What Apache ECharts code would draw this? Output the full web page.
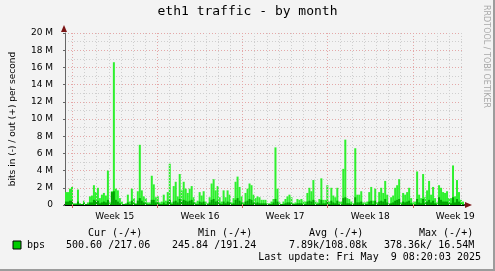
<!DOCTYPE html>
<html>
<head>
<meta charset="utf-8">
<script src="https://cdn.jsdelivr.net/npm/echarts@6.0.0/dist/echarts.min.js"></script>
<style>
  html, body { margin: 0; padding: 0; background: #f3f3f3; }
  #box { width: 495px; height: 271px; }
</style>
</head>
<body>
<div id="box"></div>
<script>
// out (+) max per 2px bin, in Mbit/s
var maxVals = [
  1.5,1.5,1.9,2.1,0.2,0.2,1.8,0.2,0.1,0.5,
  0.1,0.3,1.0,1.1,2.3,1.5,2.0,0.8,1.2,1.4,
  1.1,4.0,0.3,1.6,16.6,1.9,1.7,0.8,0.4,0.1,
  0.2,1.2,0.4,1.9,0.8,0.2,1.6,7.0,1.7,1.0,
  0.8,0.3,0.3,3.4,2.4,0.9,1.0,0.3,0.4,1.2,
  0.5,1.5,4.8,0.3,2.2,2.7,1.0,3.6,1.7,2.7,
  1.9,1.4,1.9,2.2,0.9,0.3,0.5,1.5,1.1,1.6,
  0.4,0.2,0.9,2.5,3.0,1.7,2.2,0.9,0.4,1.7,
  0.9,1.7,1.2,0.3,0.8,2.7,3.3,2.1,1.0,0.3,
  1.4,1.9,2.5,2.3,1.2,0.8,1.0,0.9,0.6,0.6,
  0.6,0.2,0.2,0.4,0.7,6.7,1.9,0.3,0.1,0.4,
  0.7,1.0,1.2,0.9,0.2,0.3,0.7,0.6,0.7,0.5,
  0.4,1.4,2.0,1.6,2.9,0.5,0.3,0.7,3.1,0.6,
  0.6,2.3,0.4,2.0,1.1,0.9,2.0,0.4,0.4,4.2,
  7.6,0.8,0.7,0.4,0.2,6.6,1.2,1.2,1.6,0.3,
  0.3,0.4,1.5,2.1,0.5,1.9,0.3,1.5,2.0,1.4,
  2.8,1.2,0.2,0.9,1.1,2.0,2.3,3.0,0.3,1.4,
  1.2,1.5,2.0,0.8,0.3,0.4,3.9,1.2,0.8,3.6,
  0.9,1.7,2.8,1.2,2.1,0.8,0.3,2.3,2.0,1.5,
  1.4,1.6,0.8,0.8,4.6,1.0,2.9,1.5,0.6,0.4
];
// out (+) average per bin
var avgVals = [
  0.4,0.4,0.5,0.5,0.1,0.1,0.4,0.1,0.1,0.2,
  0.1,0.1,0.3,0.3,0.6,0.5,0.5,0.2,0.3,0.4,
  0.3,0.6,0.1,1.5,1.6,0.6,0.4,0.2,0.1,0.1,
  0.1,0.3,0.1,0.5,0.2,0.1,0.5,0.8,0.5,0.3,
  0.2,0.1,0.1,0.6,0.6,0.3,0.3,0.1,0.1,0.3,
  0.1,0.4,0.6,0.1,0.4,0.5,0.3,0.7,0.4,0.6,
  0.5,0.4,0.5,0.6,0.3,0.1,0.1,0.4,0.3,0.4,
  0.1,0.1,0.3,0.6,0.7,0.4,0.5,0.2,0.1,0.4,
  0.2,0.4,0.3,0.1,0.2,0.6,0.8,0.5,0.3,0.1,
  0.4,0.5,0.7,0.6,0.3,0.2,0.3,0.2,0.2,0.2,
  0.2,0.1,0.1,0.1,0.3,0.7,0.4,0.1,0.1,0.1,
  0.2,0.3,0.3,0.2,0.1,0.1,0.2,0.2,0.2,0.1,
  0.1,0.4,0.5,0.4,0.6,0.1,0.1,0.2,0.6,0.2,
  0.2,0.5,0.1,0.5,0.3,0.2,0.5,0.1,0.1,0.8,
  0.9,0.2,0.2,0.1,0.1,0.9,0.3,0.3,0.4,0.1,
  0.1,0.1,0.4,0.5,0.1,0.5,0.1,0.4,0.5,0.4,
  0.7,0.3,0.1,0.2,0.3,0.5,0.6,0.7,0.1,0.4,
  0.3,0.4,0.5,0.2,0.1,0.1,0.7,0.3,0.2,0.7,
  0.2,0.4,0.6,0.3,0.5,0.2,0.1,0.9,0.6,0.4,
  0.4,0.4,0.2,0.2,0.9,0.3,0.7,0.4,0.2,0.1
];
var binHours = 3.9375;          // one bin = 2px of the graph
var spanHours = 787.5;          // whole x range
var weekStarts = [14.4, 182.4, 350.4, 518.4, 686.4];
var weekLabels = ['Week 15', 'Week 16', 'Week 17', 'Week 18', 'Week 19'];

var legendHead = ['Cur (-/+)', 'Min (-/+)', 'Avg (-/+)', 'Max (-/+)'];
var legendVals = ['500.60 /217.06', '245.84 /191.24', '7.89k/108.08k', '378.36k/ 16.54M'];
var lastUpdate = 'Last update: Fri May  9 08:20:03 2025';

function toPts(arr) {
  return arr.map(function (v, i) { return [(i + 0.5) * binHours, v]; });
}

var weekCenters = weekStarts.map(function (w) { return w + 84; });
var dayLines = [];
for (var t = weekStarts[0]; t < spanHours; t += 24) {
  var isWeek = weekStarts.some(function (w) { return Math.abs(w - t) < 0.01; });
  if (!isWeek) dayLines.push(t);
}

var mono = 'DejaVu Sans Mono';
var sans = 'DejaVu Sans';
function txt(x, y, s, extra) {
  var st = { text: s, font: '10px "' + mono + '"', fill: '#000', verticalAlign: 'middle' };
  for (var k in extra) st[k] = extra[k];
  return { type: 'text', x: x, y: y, style: st };
}

var myChart = echarts.init(document.getElementById('box'));
var option = {
  backgroundColor: '#f3f3f3',
  animation: false,
  grid: { left: 64, right: 31, top: 33, bottom: 66 },
  xAxis: {
    type: 'value',
    min: 0,
    max: spanHours,
    axisLine: { show: true, lineStyle: { color: '#000', width: 2 } },
    axisTick: { show: true, customValues: weekStarts, length: 3, lineStyle: { color: '#d06060' } },
    axisLabel: {
      customValues: weekCenters,
      margin: 7,
      fontFamily: sans, fontSize: 9, color: '#000',
      formatter: function (v) {
        var i = weekCenters.indexOf(v);
        return i >= 0 ? weekLabels[i] : '';
      }
    },
    splitLine: { show: false }
  },
  yAxis: {
    type: 'value',
    min: 0, max: 20, interval: 2,
    name: 'bits in (-) / out (+) per second',
    nameLocation: 'middle',
    nameGap: 48,
    nameTextStyle: { fontFamily: sans, fontSize: 9, color: '#000' },
    axisLine: { show: true, lineStyle: { color: '#666' } },
    axisTick: { show: true, length: 2, lineStyle: { color: '#666' } },
    axisLabel: {
      margin: 12, fontFamily: sans, fontSize: 9, color: '#000',
      formatter: function (v) { return v === 0 ? '0' : v + ' M'; }
    },
    splitLine: { show: true, lineStyle: { color: '#e4a8a8', type: [1, 2] } },
    minorTick: { show: false, splitNumber: 2 },
    minorSplitLine: { show: true, lineStyle: { color: '#cfcfcf', type: [1, 2] } }
  },
  series: [
    {
      type: 'line', data: [], z: 1, silent: true,
      markLine: {
        silent: true, symbol: 'none', label: { show: false }, animation: false,
        data: dayLines.map(function (d) {
          return { xAxis: d, lineStyle: { color: '#cfcfcf', type: [1, 2], width: 1 } };
        }).concat(weekStarts.map(function (w) {
          return { xAxis: w, lineStyle: { color: '#e4a8a8', type: [1, 2], width: 1 } };
        }))
      }
    },
    {
      name: 'max', type: 'bar', z: 2, silent: true,
      data: toPts(maxVals), barWidth: 2, barGap: '-100%',
      itemStyle: { color: '#2ef02e' }
    },
    {
      name: 'avg', type: 'bar', z: 3, silent: true,
      data: toPts(avgVals), barWidth: 2, barGap: '-100%',
      itemStyle: { color: '#00a400' }
    }
  ],
  graphic: [
    { type: 'text', left: 'center', top: 5, style: { text: 'eth1 traffic - by month', font: '13px "' + mono + '"', fill: '#000' } },
    { type: 'text', x: 490, y: 5, rotation: -Math.PI / 2, style: { text: 'RRDTOOL / TOBI OETIKER', font: '8px "' + sans + '"', fill: '#a8a8a8' } },
    { type: 'polygon', shape: { points: [[64, 25], [61, 32], [67, 32]] }, style: { fill: '#7a1414' } },
    { type: 'polygon', shape: { points: [[472, 205], [465, 202], [465, 208]] }, style: { fill: '#7a1414' } },
    { type: 'rect', shape: { x: 13, y: 241, width: 8, height: 8 }, style: { fill: '#00cc00', stroke: '#000', lineWidth: 1 } },
    txt(27, 245.5, 'bps'),
    txt(88, 233, legendHead[0]),
    txt(198, 233, legendHead[1]),
    txt(309, 233, legendHead[2]),
    txt(419, 233, legendHead[3]),
    txt(66, 245.5, legendVals[0]),
    txt(172, 245.5, legendVals[1]),
    txt(289, 245.5, legendVals[2]),
    txt(384, 245.5, legendVals[3]),
    txt(481, 257.5, lastUpdate, { align: 'right' }),
    { type: 'rect', shape: { x: 493, y: 0, width: 2, height: 271 }, style: { fill: '#9c9c9c' } },
    { type: 'rect', shape: { x: 0, y: 269, width: 495, height: 2 }, style: { fill: '#9c9c9c' } }
  ]
};
myChart.setOption(option);
</script>
</body>
</html>
